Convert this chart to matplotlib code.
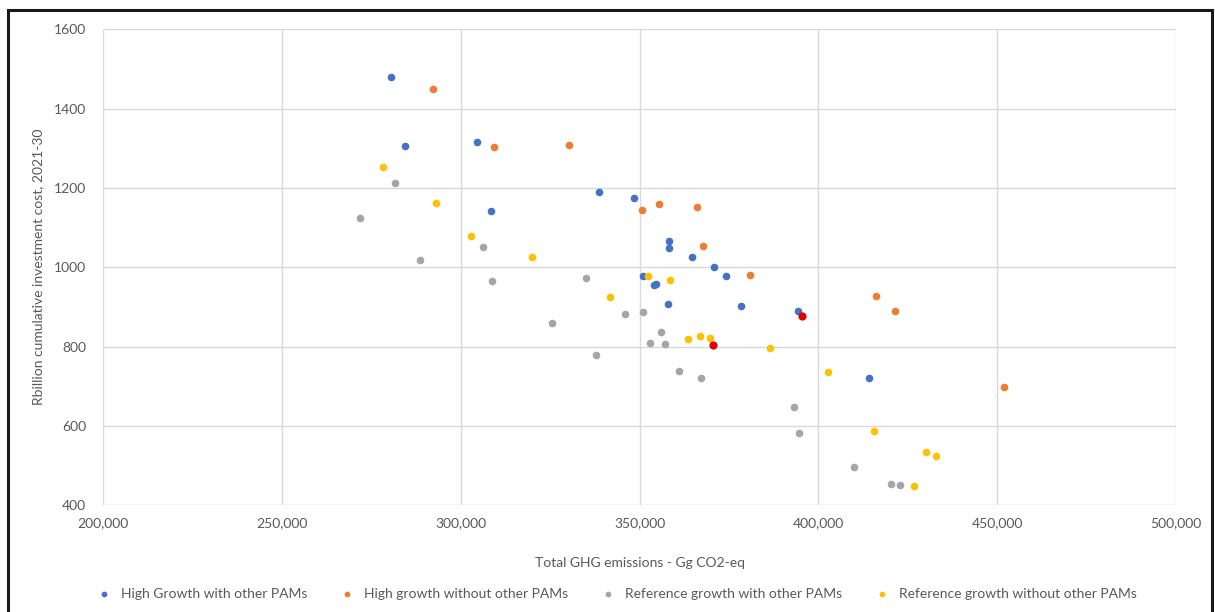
import matplotlib
matplotlib.use("Agg")
import matplotlib.pyplot as plt
from matplotlib.patches import Rectangle
from matplotlib.ticker import FuncFormatter, MultipleLocator

plt.rcParams['font.family'] = ['Lato', 'DejaVu Sans']

# Total GHG emissions (Gg CO2-eq) and cumulative investment cost (R billion)
high_with_x = [280500, 284500, 304500, 308400, 338700, 348400, 358300, 358300, 364700,
               370800, 374100, 350900, 353900, 354500, 357900, 378300, 394300, 414100]
high_with_y = [1480, 1305, 1316, 1143, 1189, 1174, 1066, 1048, 1026,
               1000, 978, 978, 954, 959, 908, 901, 889, 721]

high_without_x = [292200, 309300, 330300, 350600, 355400, 366000, 367600, 381000,
                  416100, 421500, 451800]
high_without_y = [1451, 1304, 1308, 1145, 1159, 1152, 1054, 981, 927, 890, 699]

ref_with_x = [271900, 281700, 288700, 306300, 308800, 325500, 334900, 337900, 346000,
              351000, 352800, 356100, 357000, 360900, 367300, 393200, 394600, 409900,
              420200, 422700]
ref_with_y = [1124, 1212, 1018, 1050, 965, 860, 972, 779, 883,
              886, 810, 836, 806, 737, 720, 648, 582, 496, 454, 450]

ref_without_x = [278400, 293000, 302800, 319900, 341700, 352300, 358400, 363400,
                 366900, 369800, 386400, 402700, 415500, 430000, 433000, 426600]
ref_without_y = [1252, 1162, 1080, 1025, 926, 977, 968, 820,
                 826, 821, 795, 736, 586, 534, 524, 447]

highlight_x = [370600, 395300]
highlight_y = [805, 878]

series_labels = ["High Growth with other PAMs", "High growth without other PAMs",
                 "Reference growth with other PAMs", "Reference growth without other PAMs"]

fig = plt.figure(figsize=(12.15, 6.12), dpi=100)
ax = fig.add_axes([0.0848, 0.1748, 0.8832, 0.7770])

ms = 20
ax.scatter(high_with_x, high_with_y, s=ms, color="#4472C4", label=series_labels[0], zorder=3)
ax.scatter(high_without_x, high_without_y, s=ms, color="#ED7D31", label=series_labels[1], zorder=3)
ax.scatter(ref_with_x, ref_with_y, s=ms, color="#A5A5A5", label=series_labels[2], zorder=3)
ax.scatter(ref_without_x, ref_without_y, s=ms, color="#FFC000", label=series_labels[3], zorder=3)
ax.scatter(highlight_x, highlight_y, s=ms + 4, color="#E00000", label="_nolegend_", zorder=4)

ax.set_xlim(200000, 500000)
ax.set_ylim(400, 1600)
ax.xaxis.set_major_locator(MultipleLocator(50000))
ax.yaxis.set_major_locator(MultipleLocator(200))
ax.xaxis.set_major_formatter(FuncFormatter(lambda v, p: f"{int(v):,}"))

ax.grid(True, color="#D9D9D9", linewidth=1.0, zorder=0)
ax.set_axisbelow(True)
for s in ax.spines.values():
    s.set_visible(False)
ax.tick_params(axis="both", length=0, labelsize=10, labelcolor="#595959")
ax.tick_params(axis="y", pad=12)
ax.tick_params(axis="x", pad=9)

ax.set_xlabel("Total GHG emissions - Gg CO2-eq", fontsize=10, color="#595959", labelpad=19.5)
ax.set_ylabel("Rbillion cumulative investment cost, 2021-30", fontsize=10, color="#595959",
              labelpad=7.5)

leg = fig.legend(loc="center", bbox_to_anchor=(0.505, 0.030), ncol=4, frameon=False,
                 fontsize=10, handletextpad=0.2, columnspacing=1.9, markerscale=0.7)
for t in leg.get_texts():
    t.set_color("#595959")

# outer chart border
fig.patches.append(Rectangle((8 / 1215, -0.02), 1204 / 1215, 1.02 - 10 / 612,
                             transform=fig.transFigure, fill=False,
                             edgecolor="#1a1a1a", linewidth=2.2))

fig.savefig("out.png", dpi=100)
